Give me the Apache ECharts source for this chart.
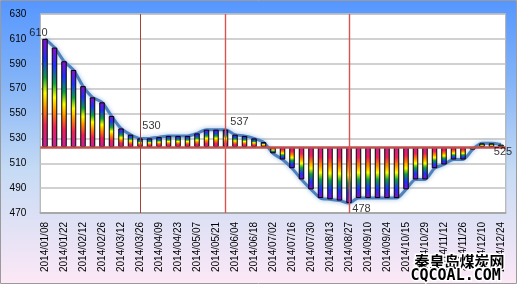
<!DOCTYPE html>
<html>
<head>
<meta charset="utf-8">
<script src="https://cdn.jsdelivr.net/npm/echarts@6/dist/echarts.min.js"></script>
<style>html,body{margin:0;padding:0;background:#fff}#c{width:520px;height:287px}</style>
</head>
<body>
<div id="c"></div>
<script>
const categories = ['2014/01/08','2014/01/15','2014/01/22','2014/01/29','2014/02/12','2014/02/19','2014/02/26','2014/03/05','2014/03/12','2014/03/19','2014/03/26','2014/04/02','2014/04/09','2014/04/16','2014/04/23','2014/04/30','2014/05/07','2014/05/14','2014/05/21','2014/05/28','2014/06/04','2014/06/11','2014/06/18','2014/06/25','2014/07/02','2014/07/09','2014/07/16','2014/07/23','2014/07/30','2014/08/06','2014/08/13','2014/08/20','2014/08/27','2014/09/03','2014/09/10','2014/09/17','2014/09/24','2014/10/08','2014/10/15','2014/10/22','2014/10/29','2014/11/05','2014/11/12','2014/11/19','2014/11/26','2014/12/03','2014/12/10','2014/12/17','2014/12/24'];
const prices = [610,603,592,585,572,563,559,548,538,533,530,530,531,532,532,532,534,537,537,537,533,532,530,527,518,513,506,497,489,482,481,480,478,482,482,482,482,482,489,497,497,506,509,513,513,521,526,526,525];
const baseline = 523;
const yTicks = {min: 470, max: 630, interval: 20};
const markerDates = ['2014/03/26', '2014/05/28', '2014/08/27'];
const labelPoints = [['2014/01/08', 610], ['2014/03/26', 530], ['2014/05/28', 537], ['2014/08/27', 478], ['2014/12/24', 525]];
const watermark = ['秦皇岛煤炭网', 'CQCOAL.COM'];

// styling
const markerShift = [0.18, -0.16, -0.26];
const labelOffsets = [[-6.5, -6], [11.5, -12.5], [14, -7.5], [12.5, 6], [2, 7]];
const rainbow = [
  {offset: 0, color: '#c0209c'},
  {offset: 0.2, color: '#f0205a'},
  {offset: 0.36, color: '#ff8a00'},
  {offset: 0.5, color: '#ffff00'},
  {offset: 0.64, color: '#10a040'},
  {offset: 0.82, color: '#2030ff'},
  {offset: 1, color: '#8a10c8'}
];
function grad(up) {
  return up ? new echarts.graphic.LinearGradient(0, 1, 0, 0, rainbow)
            : new echarts.graphic.LinearGradient(0, 0, 0, 1, rainbow);
}
const baseData = prices.map(v => Math.min(v, baseline));
const deltaData = prices.map(v => ({
  value: Math.abs(v - baseline),
  itemStyle: {color: grad(v >= baseline)}
}));
const font = 'Liberation Sans';
const markerStyles = [
  {color: '#a8403a', width: 1, type: 'solid'},
  {color: '#d9534f', width: 1.4, type: 'solid'},
  {color: '#d9534f', width: 1.4, type: 'solid'}
];

const chart = echarts.init(document.getElementById('c'), null, {renderer: 'canvas'});
chart.setOption({
  animation: false,
  graphic: [
    {type: 'rect', z: -10, shape: {x: 0.5, y: 0.5, width: 516, height: 283},
     style: {fill: new echarts.graphic.LinearGradient(0, 0, 0, 1, [
       {offset: 0, color: '#5596ff'}, {offset: 0.3, color: '#86b5f7'},
       {offset: 0.6, color: '#c6dbf4'}, {offset: 1, color: '#fde8f6'}]),
       stroke: '#9a9a9a', lineWidth: 1}},
    {type: 'text', z: 50, left: 413, top: 252,
     style: {text: watermark[0], font: 'bold 15px "Noto Sans CJK SC"', fill: '#000', stroke: '#fff', lineWidth: 3}},
    {type: 'text', z: 50, left: 409, top: 267,
     style: {text: watermark[1], font: 'bold 15px "DejaVu Sans Mono"', fill: '#000', stroke: '#fff', lineWidth: 3}}
  ],
  grid: {left: 40.25, right: 14.25, top: 14, bottom: 74, show: true,
         backgroundColor: '#fff', borderColor: '#a6a6a6', borderWidth: 1},
  xAxis: {
    type: 'category', data: categories, boundaryGap: true,
    axisLine: {lineStyle: {color: '#a0a0a0', width: 1.5}},
    axisTick: {show: false},
    axisLabel: {interval: 1, rotate: 90, margin: 9, color: '#000', fontFamily: font, fontSize: 10}
  },
  yAxis: {
    type: 'value', min: yTicks.min, max: yTicks.max, interval: yTicks.interval,
    axisLine: {show: false}, axisTick: {show: false},
    axisLabel: {color: '#000', fontFamily: font, fontSize: 10, margin: 14},
    splitLine: {lineStyle: {color: '#c2c2c2', width: 1.6}}
  },
  series: [
    {type: 'line', data: prices, smooth: 0.25, symbol: 'none', z: 1,
     lineStyle: {color: '#4f81bd', width: 3, shadowColor: 'rgba(120,165,220,0.8)', shadowBlur: 4}},
    {type: 'bar', stack: 's', data: baseData, barWidth: 5.5, z: 3,
     itemStyle: {color: 'rgba(0,0,0,0)'}, silent: true},
    {type: 'bar', stack: 's', data: deltaData, barWidth: 5.5, z: 3,
     itemStyle: {borderColor: '#000', borderWidth: 1},
     markLine: {silent: true, symbol: 'none', label: {show: false},
       data: [{yAxis: baseline, lineStyle: {color: '#c0504d', width: 2.5, type: 'solid'}}].concat(
         markerDates.map((d, i) => ({xAxis: categories.indexOf(d) + markerShift[i], lineStyle: markerStyles[i]})))
     }},
    {type: 'scatter', z: 10, symbolSize: 1, itemStyle: {color: 'rgba(0,0,0,0)'},
     data: labelPoints.map((p, i) => ({value: p, label: {show: true, position: 'inside',
       offset: labelOffsets[i], formatter: String(p[1]), color: '#000', fontFamily: font, fontSize: 11}}))}
  ]
});
</script>
</body>
</html>
